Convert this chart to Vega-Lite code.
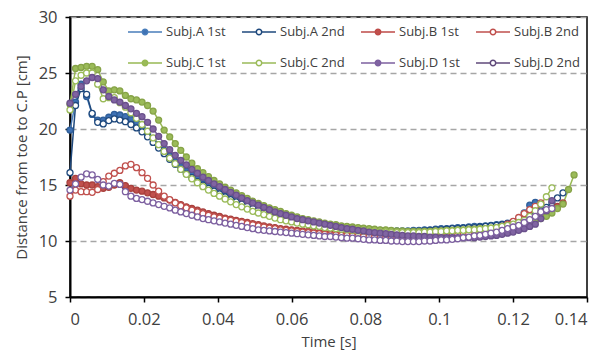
{
"$schema":"https://vega.github.io/schema/vega-lite/v6.json",
"autosize":{"type":"none"},
"padding":{"left":70,"top":17,"right":20,"bottom":56},
"width":517,"height":280,
"background":"white",
"data":{"values":[
{"s":"Subj.A 1st","t":0,"v":19.9},{"s":"Subj.A 1st","t":0.0015,"v":22.4},{"s":"Subj.A 1st","t":0.003,"v":24.0},{"s":"Subj.A 1st","t":0.0045,"v":22.9},{"s":"Subj.A 1st","t":0.006,"v":21.3},{"s":"Subj.A 1st","t":0.0075,"v":20.8},{"s":"Subj.A 1st","t":0.009,"v":20.8},{"s":"Subj.A 1st","t":0.0105,"v":21.05},{"s":"Subj.A 1st","t":0.012,"v":21.3},{"s":"Subj.A 1st","t":0.0135,"v":21.25},{"s":"Subj.A 1st","t":0.015,"v":21.1},{"s":"Subj.A 1st","t":0.0165,"v":20.85},{"s":"Subj.A 1st","t":0.018,"v":20.55},{"s":"Subj.A 1st","t":0.0195,"v":20.15},{"s":"Subj.A 1st","t":0.021,"v":19.65},{"s":"Subj.A 1st","t":0.0225,"v":19.15},{"s":"Subj.A 1st","t":0.024,"v":18.6},{"s":"Subj.A 1st","t":0.0255,"v":18.1},{"s":"Subj.A 1st","t":0.027,"v":17.6},{"s":"Subj.A 1st","t":0.0285,"v":17.1},{"s":"Subj.A 1st","t":0.03,"v":16.65},{"s":"Subj.A 1st","t":0.0315,"v":16.25},{"s":"Subj.A 1st","t":0.033,"v":15.9},{"s":"Subj.A 1st","t":0.0345,"v":15.55},{"s":"Subj.A 1st","t":0.036,"v":15.25},{"s":"Subj.A 1st","t":0.0375,"v":14.95},{"s":"Subj.A 1st","t":0.039,"v":14.7},{"s":"Subj.A 1st","t":0.0405,"v":14.45},{"s":"Subj.A 1st","t":0.042,"v":14.2},{"s":"Subj.A 1st","t":0.0435,"v":13.95},{"s":"Subj.A 1st","t":0.045,"v":13.75},{"s":"Subj.A 1st","t":0.0465,"v":13.55},{"s":"Subj.A 1st","t":0.048,"v":13.35},{"s":"Subj.A 1st","t":0.0495,"v":13.15},{"s":"Subj.A 1st","t":0.051,"v":12.95},{"s":"Subj.A 1st","t":0.0525,"v":12.8},{"s":"Subj.A 1st","t":0.054,"v":12.65},{"s":"Subj.A 1st","t":0.0555,"v":12.5},{"s":"Subj.A 1st","t":0.057,"v":12.35},{"s":"Subj.A 1st","t":0.0585,"v":12.2},{"s":"Subj.A 1st","t":0.06,"v":12.05},{"s":"Subj.A 1st","t":0.0615,"v":11.95},{"s":"Subj.A 1st","t":0.063,"v":11.85},{"s":"Subj.A 1st","t":0.0645,"v":11.75},{"s":"Subj.A 1st","t":0.066,"v":11.65},{"s":"Subj.A 1st","t":0.0675,"v":11.55},{"s":"Subj.A 1st","t":0.069,"v":11.45},{"s":"Subj.A 1st","t":0.0705,"v":11.4},{"s":"Subj.A 1st","t":0.072,"v":11.3},{"s":"Subj.A 1st","t":0.0735,"v":11.25},{"s":"Subj.A 1st","t":0.075,"v":11.2},{"s":"Subj.A 1st","t":0.0765,"v":11.15},{"s":"Subj.A 1st","t":0.078,"v":11.1},{"s":"Subj.A 1st","t":0.0795,"v":11.05},{"s":"Subj.A 1st","t":0.081,"v":11.0},{"s":"Subj.A 1st","t":0.0825,"v":10.95},{"s":"Subj.A 1st","t":0.084,"v":10.95},{"s":"Subj.A 1st","t":0.0855,"v":10.9},{"s":"Subj.A 1st","t":0.087,"v":10.9},{"s":"Subj.A 1st","t":0.0885,"v":10.9},{"s":"Subj.A 1st","t":0.09,"v":10.9},{"s":"Subj.A 1st","t":0.0915,"v":10.9},{"s":"Subj.A 1st","t":0.093,"v":10.95},{"s":"Subj.A 1st","t":0.0945,"v":10.95},{"s":"Subj.A 1st","t":0.096,"v":11.0},{"s":"Subj.A 1st","t":0.0975,"v":11.0},{"s":"Subj.A 1st","t":0.099,"v":11.05},{"s":"Subj.A 1st","t":0.1005,"v":11.1},{"s":"Subj.A 1st","t":0.102,"v":11.1},{"s":"Subj.A 1st","t":0.1035,"v":11.15},{"s":"Subj.A 1st","t":0.105,"v":11.2},{"s":"Subj.A 1st","t":0.1065,"v":11.2},{"s":"Subj.A 1st","t":0.108,"v":11.25},{"s":"Subj.A 1st","t":0.1095,"v":11.3},{"s":"Subj.A 1st","t":0.111,"v":11.3},{"s":"Subj.A 1st","t":0.1125,"v":11.35},{"s":"Subj.A 1st","t":0.114,"v":11.4},{"s":"Subj.A 1st","t":0.1155,"v":11.45},{"s":"Subj.A 1st","t":0.117,"v":11.5},{"s":"Subj.A 1st","t":0.1185,"v":11.6},{"s":"Subj.A 1st","t":0.12,"v":11.7},{"s":"Subj.A 1st","t":0.1215,"v":12.0},{"s":"Subj.A 1st","t":0.123,"v":12.5},{"s":"Subj.A 1st","t":0.1245,"v":13.2},{"s":"Subj.A 1st","t":0.126,"v":13.45},
{"s":"Subj.A 2nd","t":0,"v":16.1},{"s":"Subj.A 2nd","t":0.0015,"v":22.1},{"s":"Subj.A 2nd","t":0.003,"v":23.6},{"s":"Subj.A 2nd","t":0.0045,"v":23.1},{"s":"Subj.A 2nd","t":0.006,"v":21.4},{"s":"Subj.A 2nd","t":0.0075,"v":20.6},{"s":"Subj.A 2nd","t":0.009,"v":20.45},{"s":"Subj.A 2nd","t":0.0105,"v":20.75},{"s":"Subj.A 2nd","t":0.012,"v":20.9},{"s":"Subj.A 2nd","t":0.0135,"v":20.8},{"s":"Subj.A 2nd","t":0.015,"v":20.65},{"s":"Subj.A 2nd","t":0.0165,"v":20.4},{"s":"Subj.A 2nd","t":0.018,"v":20.1},{"s":"Subj.A 2nd","t":0.0195,"v":19.75},{"s":"Subj.A 2nd","t":0.021,"v":19.3},{"s":"Subj.A 2nd","t":0.0225,"v":18.8},{"s":"Subj.A 2nd","t":0.024,"v":18.3},{"s":"Subj.A 2nd","t":0.0255,"v":17.8},{"s":"Subj.A 2nd","t":0.027,"v":17.3},{"s":"Subj.A 2nd","t":0.0285,"v":16.85},{"s":"Subj.A 2nd","t":0.03,"v":16.4},{"s":"Subj.A 2nd","t":0.0315,"v":16.0},{"s":"Subj.A 2nd","t":0.033,"v":15.65},{"s":"Subj.A 2nd","t":0.0345,"v":15.3},{"s":"Subj.A 2nd","t":0.036,"v":15.0},{"s":"Subj.A 2nd","t":0.0375,"v":14.7},{"s":"Subj.A 2nd","t":0.039,"v":14.45},{"s":"Subj.A 2nd","t":0.0405,"v":14.2},{"s":"Subj.A 2nd","t":0.042,"v":13.95},{"s":"Subj.A 2nd","t":0.0435,"v":13.7},{"s":"Subj.A 2nd","t":0.045,"v":13.5},{"s":"Subj.A 2nd","t":0.0465,"v":13.3},{"s":"Subj.A 2nd","t":0.048,"v":13.1},{"s":"Subj.A 2nd","t":0.0495,"v":12.9},{"s":"Subj.A 2nd","t":0.051,"v":12.75},{"s":"Subj.A 2nd","t":0.0525,"v":12.6},{"s":"Subj.A 2nd","t":0.054,"v":12.45},{"s":"Subj.A 2nd","t":0.0555,"v":12.3},{"s":"Subj.A 2nd","t":0.057,"v":12.15},{"s":"Subj.A 2nd","t":0.0585,"v":12.0},{"s":"Subj.A 2nd","t":0.06,"v":11.9},{"s":"Subj.A 2nd","t":0.0615,"v":11.8},{"s":"Subj.A 2nd","t":0.063,"v":11.7},{"s":"Subj.A 2nd","t":0.0645,"v":11.6},{"s":"Subj.A 2nd","t":0.066,"v":11.5},{"s":"Subj.A 2nd","t":0.0675,"v":11.45},{"s":"Subj.A 2nd","t":0.069,"v":11.35},{"s":"Subj.A 2nd","t":0.0705,"v":11.3},{"s":"Subj.A 2nd","t":0.072,"v":11.2},{"s":"Subj.A 2nd","t":0.0735,"v":11.15},{"s":"Subj.A 2nd","t":0.075,"v":11.1},{"s":"Subj.A 2nd","t":0.0765,"v":11.05},{"s":"Subj.A 2nd","t":0.078,"v":11.0},{"s":"Subj.A 2nd","t":0.0795,"v":10.95},{"s":"Subj.A 2nd","t":0.081,"v":10.9},{"s":"Subj.A 2nd","t":0.0825,"v":10.9},{"s":"Subj.A 2nd","t":0.084,"v":10.85},{"s":"Subj.A 2nd","t":0.0855,"v":10.85},{"s":"Subj.A 2nd","t":0.087,"v":10.8},{"s":"Subj.A 2nd","t":0.0885,"v":10.8},{"s":"Subj.A 2nd","t":0.09,"v":10.8},{"s":"Subj.A 2nd","t":0.0915,"v":10.8},{"s":"Subj.A 2nd","t":0.093,"v":10.85},{"s":"Subj.A 2nd","t":0.0945,"v":10.85},{"s":"Subj.A 2nd","t":0.096,"v":10.9},{"s":"Subj.A 2nd","t":0.0975,"v":10.95},{"s":"Subj.A 2nd","t":0.099,"v":11.0},{"s":"Subj.A 2nd","t":0.1005,"v":11.0},{"s":"Subj.A 2nd","t":0.102,"v":11.05},{"s":"Subj.A 2nd","t":0.1035,"v":11.1},{"s":"Subj.A 2nd","t":0.105,"v":11.1},{"s":"Subj.A 2nd","t":0.1065,"v":11.15},{"s":"Subj.A 2nd","t":0.108,"v":11.2},{"s":"Subj.A 2nd","t":0.1095,"v":11.2},{"s":"Subj.A 2nd","t":0.111,"v":11.25},{"s":"Subj.A 2nd","t":0.1125,"v":11.3},{"s":"Subj.A 2nd","t":0.114,"v":11.35},{"s":"Subj.A 2nd","t":0.1155,"v":11.4},{"s":"Subj.A 2nd","t":0.117,"v":11.45},{"s":"Subj.A 2nd","t":0.1185,"v":11.55},{"s":"Subj.A 2nd","t":0.12,"v":11.65},{"s":"Subj.A 2nd","t":0.1215,"v":11.8},{"s":"Subj.A 2nd","t":0.123,"v":12.0},{"s":"Subj.A 2nd","t":0.1245,"v":12.2},{"s":"Subj.A 2nd","t":0.126,"v":12.45},{"s":"Subj.A 2nd","t":0.1275,"v":12.7},{"s":"Subj.A 2nd","t":0.129,"v":13.0},{"s":"Subj.A 2nd","t":0.1305,"v":13.4},{"s":"Subj.A 2nd","t":0.132,"v":13.85},{"s":"Subj.A 2nd","t":0.1335,"v":14.3},
{"s":"Subj.B 1st","t":0,"v":15.2},{"s":"Subj.B 1st","t":0.0015,"v":15.6},{"s":"Subj.B 1st","t":0.003,"v":15.1},{"s":"Subj.B 1st","t":0.0045,"v":15.0},{"s":"Subj.B 1st","t":0.006,"v":15.0},{"s":"Subj.B 1st","t":0.0075,"v":14.85},{"s":"Subj.B 1st","t":0.009,"v":14.7},{"s":"Subj.B 1st","t":0.0105,"v":14.8},{"s":"Subj.B 1st","t":0.012,"v":15.0},{"s":"Subj.B 1st","t":0.0135,"v":15.2},{"s":"Subj.B 1st","t":0.015,"v":14.95},{"s":"Subj.B 1st","t":0.0165,"v":14.7},{"s":"Subj.B 1st","t":0.018,"v":14.55},{"s":"Subj.B 1st","t":0.0195,"v":14.45},{"s":"Subj.B 1st","t":0.021,"v":14.3},{"s":"Subj.B 1st","t":0.0225,"v":14.15},{"s":"Subj.B 1st","t":0.024,"v":14.0},{"s":"Subj.B 1st","t":0.0255,"v":13.85},{"s":"Subj.B 1st","t":0.027,"v":13.65},{"s":"Subj.B 1st","t":0.0285,"v":13.45},{"s":"Subj.B 1st","t":0.03,"v":13.25},{"s":"Subj.B 1st","t":0.0315,"v":13.05},{"s":"Subj.B 1st","t":0.033,"v":12.9},{"s":"Subj.B 1st","t":0.0345,"v":12.75},{"s":"Subj.B 1st","t":0.036,"v":12.6},{"s":"Subj.B 1st","t":0.0375,"v":12.45},{"s":"Subj.B 1st","t":0.039,"v":12.3},{"s":"Subj.B 1st","t":0.0405,"v":12.2},{"s":"Subj.B 1st","t":0.042,"v":12.05},{"s":"Subj.B 1st","t":0.0435,"v":11.95},{"s":"Subj.B 1st","t":0.045,"v":11.85},{"s":"Subj.B 1st","t":0.0465,"v":11.75},{"s":"Subj.B 1st","t":0.048,"v":11.65},{"s":"Subj.B 1st","t":0.0495,"v":11.55},{"s":"Subj.B 1st","t":0.051,"v":11.45},{"s":"Subj.B 1st","t":0.0525,"v":11.35},{"s":"Subj.B 1st","t":0.054,"v":11.25},{"s":"Subj.B 1st","t":0.0555,"v":11.2},{"s":"Subj.B 1st","t":0.057,"v":11.1},{"s":"Subj.B 1st","t":0.0585,"v":11.05},{"s":"Subj.B 1st","t":0.06,"v":11.0},{"s":"Subj.B 1st","t":0.0615,"v":10.95},{"s":"Subj.B 1st","t":0.063,"v":10.9},{"s":"Subj.B 1st","t":0.0645,"v":10.85},{"s":"Subj.B 1st","t":0.066,"v":10.8},{"s":"Subj.B 1st","t":0.0675,"v":10.75},{"s":"Subj.B 1st","t":0.069,"v":10.7},{"s":"Subj.B 1st","t":0.0705,"v":10.65},{"s":"Subj.B 1st","t":0.072,"v":10.6},{"s":"Subj.B 1st","t":0.0735,"v":10.6},{"s":"Subj.B 1st","t":0.075,"v":10.55},{"s":"Subj.B 1st","t":0.0765,"v":10.5},{"s":"Subj.B 1st","t":0.078,"v":10.5},{"s":"Subj.B 1st","t":0.0795,"v":10.45},{"s":"Subj.B 1st","t":0.081,"v":10.45},{"s":"Subj.B 1st","t":0.0825,"v":10.4},{"s":"Subj.B 1st","t":0.084,"v":10.4},{"s":"Subj.B 1st","t":0.0855,"v":10.35},{"s":"Subj.B 1st","t":0.087,"v":10.35},{"s":"Subj.B 1st","t":0.0885,"v":10.3},{"s":"Subj.B 1st","t":0.09,"v":10.3},{"s":"Subj.B 1st","t":0.0915,"v":10.3},{"s":"Subj.B 1st","t":0.093,"v":10.3},{"s":"Subj.B 1st","t":0.0945,"v":10.3},{"s":"Subj.B 1st","t":0.096,"v":10.35},{"s":"Subj.B 1st","t":0.0975,"v":10.35},{"s":"Subj.B 1st","t":0.099,"v":10.4},{"s":"Subj.B 1st","t":0.1005,"v":10.4},{"s":"Subj.B 1st","t":0.102,"v":10.45},{"s":"Subj.B 1st","t":0.1035,"v":10.5},{"s":"Subj.B 1st","t":0.105,"v":10.55},{"s":"Subj.B 1st","t":0.1065,"v":10.6},{"s":"Subj.B 1st","t":0.108,"v":10.6},{"s":"Subj.B 1st","t":0.1095,"v":10.65},{"s":"Subj.B 1st","t":0.111,"v":10.7},{"s":"Subj.B 1st","t":0.1125,"v":10.75},{"s":"Subj.B 1st","t":0.114,"v":10.8},{"s":"Subj.B 1st","t":0.1155,"v":10.9},{"s":"Subj.B 1st","t":0.117,"v":10.95},{"s":"Subj.B 1st","t":0.1185,"v":11.05},{"s":"Subj.B 1st","t":0.12,"v":11.15},{"s":"Subj.B 1st","t":0.1215,"v":11.3},{"s":"Subj.B 1st","t":0.123,"v":11.5},{"s":"Subj.B 1st","t":0.1245,"v":11.75},{"s":"Subj.B 1st","t":0.126,"v":12.0},{"s":"Subj.B 1st","t":0.1275,"v":12.3},{"s":"Subj.B 1st","t":0.129,"v":12.55},{"s":"Subj.B 1st","t":0.1305,"v":12.85},{"s":"Subj.B 1st","t":0.132,"v":13.1},{"s":"Subj.B 1st","t":0.1335,"v":13.4},
{"s":"Subj.B 2nd","t":0,"v":14.0},{"s":"Subj.B 2nd","t":0.0015,"v":14.55},{"s":"Subj.B 2nd","t":0.003,"v":14.4},{"s":"Subj.B 2nd","t":0.0045,"v":14.4},{"s":"Subj.B 2nd","t":0.006,"v":14.35},{"s":"Subj.B 2nd","t":0.0075,"v":14.6},{"s":"Subj.B 2nd","t":0.009,"v":15.3},{"s":"Subj.B 2nd","t":0.0105,"v":15.8},{"s":"Subj.B 2nd","t":0.012,"v":16.05},{"s":"Subj.B 2nd","t":0.0135,"v":16.3},{"s":"Subj.B 2nd","t":0.015,"v":16.7},{"s":"Subj.B 2nd","t":0.0165,"v":16.85},{"s":"Subj.B 2nd","t":0.018,"v":16.55},{"s":"Subj.B 2nd","t":0.0195,"v":16.1},{"s":"Subj.B 2nd","t":0.021,"v":15.6},{"s":"Subj.B 2nd","t":0.0225,"v":15.0},{"s":"Subj.B 2nd","t":0.024,"v":14.45},{"s":"Subj.B 2nd","t":0.0255,"v":14.0},{"s":"Subj.B 2nd","t":0.027,"v":13.7},{"s":"Subj.B 2nd","t":0.0285,"v":13.4},{"s":"Subj.B 2nd","t":0.03,"v":13.15},{"s":"Subj.B 2nd","t":0.0315,"v":12.95},{"s":"Subj.B 2nd","t":0.033,"v":12.75},{"s":"Subj.B 2nd","t":0.0345,"v":12.6},{"s":"Subj.B 2nd","t":0.036,"v":12.45},{"s":"Subj.B 2nd","t":0.0375,"v":12.3},{"s":"Subj.B 2nd","t":0.039,"v":12.15},{"s":"Subj.B 2nd","t":0.0405,"v":12.05},{"s":"Subj.B 2nd","t":0.042,"v":11.95},{"s":"Subj.B 2nd","t":0.0435,"v":11.85},{"s":"Subj.B 2nd","t":0.045,"v":11.75},{"s":"Subj.B 2nd","t":0.0465,"v":11.65},{"s":"Subj.B 2nd","t":0.048,"v":11.55},{"s":"Subj.B 2nd","t":0.0495,"v":11.45},{"s":"Subj.B 2nd","t":0.051,"v":11.35},{"s":"Subj.B 2nd","t":0.0525,"v":11.25},{"s":"Subj.B 2nd","t":0.054,"v":11.15},{"s":"Subj.B 2nd","t":0.0555,"v":11.1},{"s":"Subj.B 2nd","t":0.057,"v":11.0},{"s":"Subj.B 2nd","t":0.0585,"v":10.95},{"s":"Subj.B 2nd","t":0.06,"v":10.9},{"s":"Subj.B 2nd","t":0.0615,"v":10.85},{"s":"Subj.B 2nd","t":0.063,"v":10.8},{"s":"Subj.B 2nd","t":0.0645,"v":10.75},{"s":"Subj.B 2nd","t":0.066,"v":10.7},{"s":"Subj.B 2nd","t":0.0675,"v":10.65},{"s":"Subj.B 2nd","t":0.069,"v":10.6},{"s":"Subj.B 2nd","t":0.0705,"v":10.55},{"s":"Subj.B 2nd","t":0.072,"v":10.55},{"s":"Subj.B 2nd","t":0.0735,"v":10.5},{"s":"Subj.B 2nd","t":0.075,"v":10.5},{"s":"Subj.B 2nd","t":0.0765,"v":10.45},{"s":"Subj.B 2nd","t":0.078,"v":10.45},{"s":"Subj.B 2nd","t":0.0795,"v":10.4},{"s":"Subj.B 2nd","t":0.081,"v":10.4},{"s":"Subj.B 2nd","t":0.0825,"v":10.35},{"s":"Subj.B 2nd","t":0.084,"v":10.35},{"s":"Subj.B 2nd","t":0.0855,"v":10.3},{"s":"Subj.B 2nd","t":0.087,"v":10.3},{"s":"Subj.B 2nd","t":0.0885,"v":10.3},{"s":"Subj.B 2nd","t":0.09,"v":10.3},{"s":"Subj.B 2nd","t":0.0915,"v":10.3},{"s":"Subj.B 2nd","t":0.093,"v":10.3},{"s":"Subj.B 2nd","t":0.0945,"v":10.3},{"s":"Subj.B 2nd","t":0.096,"v":10.35},{"s":"Subj.B 2nd","t":0.0975,"v":10.35},{"s":"Subj.B 2nd","t":0.099,"v":10.4},{"s":"Subj.B 2nd","t":0.1005,"v":10.4},{"s":"Subj.B 2nd","t":0.102,"v":10.45},{"s":"Subj.B 2nd","t":0.1035,"v":10.5},{"s":"Subj.B 2nd","t":0.105,"v":10.55},{"s":"Subj.B 2nd","t":0.1065,"v":10.6},{"s":"Subj.B 2nd","t":0.108,"v":10.65},{"s":"Subj.B 2nd","t":0.1095,"v":10.7},{"s":"Subj.B 2nd","t":0.111,"v":10.8},{"s":"Subj.B 2nd","t":0.1125,"v":10.9},{"s":"Subj.B 2nd","t":0.114,"v":11.0},{"s":"Subj.B 2nd","t":0.1155,"v":11.15},{"s":"Subj.B 2nd","t":0.117,"v":11.3},{"s":"Subj.B 2nd","t":0.1185,"v":11.5},{"s":"Subj.B 2nd","t":0.12,"v":11.75},{"s":"Subj.B 2nd","t":0.1215,"v":12.1},{"s":"Subj.B 2nd","t":0.123,"v":12.45},{"s":"Subj.B 2nd","t":0.1245,"v":12.8},{"s":"Subj.B 2nd","t":0.126,"v":13.1},{"s":"Subj.B 2nd","t":0.1275,"v":13.4},
{"s":"Subj.C 1st","t":0,"v":22.2},{"s":"Subj.C 1st","t":0.0015,"v":25.4},{"s":"Subj.C 1st","t":0.003,"v":25.5},{"s":"Subj.C 1st","t":0.0045,"v":25.6},{"s":"Subj.C 1st","t":0.006,"v":25.6},{"s":"Subj.C 1st","t":0.0075,"v":25.3},{"s":"Subj.C 1st","t":0.009,"v":24.2},{"s":"Subj.C 1st","t":0.0105,"v":23.4},{"s":"Subj.C 1st","t":0.012,"v":23.5},{"s":"Subj.C 1st","t":0.0135,"v":23.4},{"s":"Subj.C 1st","t":0.015,"v":23.0},{"s":"Subj.C 1st","t":0.0165,"v":22.7},{"s":"Subj.C 1st","t":0.018,"v":22.6},{"s":"Subj.C 1st","t":0.0195,"v":22.4},{"s":"Subj.C 1st","t":0.021,"v":22.1},{"s":"Subj.C 1st","t":0.0225,"v":21.6},{"s":"Subj.C 1st","t":0.024,"v":20.8},{"s":"Subj.C 1st","t":0.0255,"v":19.9},{"s":"Subj.C 1st","t":0.027,"v":19.3},{"s":"Subj.C 1st","t":0.0285,"v":18.7},{"s":"Subj.C 1st","t":0.03,"v":18.1},{"s":"Subj.C 1st","t":0.0315,"v":17.5},{"s":"Subj.C 1st","t":0.033,"v":16.95},{"s":"Subj.C 1st","t":0.0345,"v":16.45},{"s":"Subj.C 1st","t":0.036,"v":16.1},{"s":"Subj.C 1st","t":0.0375,"v":15.75},{"s":"Subj.C 1st","t":0.039,"v":15.4},{"s":"Subj.C 1st","t":0.0405,"v":15.1},{"s":"Subj.C 1st","t":0.042,"v":14.8},{"s":"Subj.C 1st","t":0.0435,"v":14.55},{"s":"Subj.C 1st","t":0.045,"v":14.3},{"s":"Subj.C 1st","t":0.0465,"v":14.05},{"s":"Subj.C 1st","t":0.048,"v":13.8},{"s":"Subj.C 1st","t":0.0495,"v":13.55},{"s":"Subj.C 1st","t":0.051,"v":13.35},{"s":"Subj.C 1st","t":0.0525,"v":13.15},{"s":"Subj.C 1st","t":0.054,"v":12.95},{"s":"Subj.C 1st","t":0.0555,"v":12.8},{"s":"Subj.C 1st","t":0.057,"v":12.65},{"s":"Subj.C 1st","t":0.0585,"v":12.45},{"s":"Subj.C 1st","t":0.06,"v":12.3},{"s":"Subj.C 1st","t":0.0615,"v":12.15},{"s":"Subj.C 1st","t":0.063,"v":12.0},{"s":"Subj.C 1st","t":0.0645,"v":11.9},{"s":"Subj.C 1st","t":0.066,"v":11.8},{"s":"Subj.C 1st","t":0.0675,"v":11.7},{"s":"Subj.C 1st","t":0.069,"v":11.6},{"s":"Subj.C 1st","t":0.0705,"v":11.5},{"s":"Subj.C 1st","t":0.072,"v":11.45},{"s":"Subj.C 1st","t":0.0735,"v":11.35},{"s":"Subj.C 1st","t":0.075,"v":11.3},{"s":"Subj.C 1st","t":0.0765,"v":11.25},{"s":"Subj.C 1st","t":0.078,"v":11.2},{"s":"Subj.C 1st","t":0.0795,"v":11.15},{"s":"Subj.C 1st","t":0.081,"v":11.1},{"s":"Subj.C 1st","t":0.0825,"v":11.05},{"s":"Subj.C 1st","t":0.084,"v":11.0},{"s":"Subj.C 1st","t":0.0855,"v":11.0},{"s":"Subj.C 1st","t":0.087,"v":10.95},{"s":"Subj.C 1st","t":0.0885,"v":10.9},{"s":"Subj.C 1st","t":0.09,"v":10.9},{"s":"Subj.C 1st","t":0.0915,"v":10.85},{"s":"Subj.C 1st","t":0.093,"v":10.85},{"s":"Subj.C 1st","t":0.0945,"v":10.85},{"s":"Subj.C 1st","t":0.096,"v":10.85},{"s":"Subj.C 1st","t":0.0975,"v":10.85},{"s":"Subj.C 1st","t":0.099,"v":10.9},{"s":"Subj.C 1st","t":0.1005,"v":10.9},{"s":"Subj.C 1st","t":0.102,"v":10.95},{"s":"Subj.C 1st","t":0.1035,"v":10.95},{"s":"Subj.C 1st","t":0.105,"v":11.0},{"s":"Subj.C 1st","t":0.1065,"v":11.0},{"s":"Subj.C 1st","t":0.108,"v":11.05},{"s":"Subj.C 1st","t":0.1095,"v":11.05},{"s":"Subj.C 1st","t":0.111,"v":11.1},{"s":"Subj.C 1st","t":0.1125,"v":11.1},{"s":"Subj.C 1st","t":0.114,"v":11.15},{"s":"Subj.C 1st","t":0.1155,"v":11.2},{"s":"Subj.C 1st","t":0.117,"v":11.2},{"s":"Subj.C 1st","t":0.1185,"v":11.25},{"s":"Subj.C 1st","t":0.12,"v":11.3},{"s":"Subj.C 1st","t":0.1215,"v":11.4},{"s":"Subj.C 1st","t":0.123,"v":11.5},{"s":"Subj.C 1st","t":0.1245,"v":11.6},{"s":"Subj.C 1st","t":0.126,"v":11.8},{"s":"Subj.C 1st","t":0.1275,"v":12.0},{"s":"Subj.C 1st","t":0.129,"v":12.2},{"s":"Subj.C 1st","t":0.1305,"v":12.5},{"s":"Subj.C 1st","t":0.132,"v":12.9},{"s":"Subj.C 1st","t":0.1335,"v":13.3},{"s":"Subj.C 1st","t":0.135,"v":14.6},{"s":"Subj.C 1st","t":0.1365,"v":15.9},
{"s":"Subj.C 2nd","t":0,"v":21.7},{"s":"Subj.C 2nd","t":0.0015,"v":24.3},{"s":"Subj.C 2nd","t":0.003,"v":24.8},{"s":"Subj.C 2nd","t":0.0045,"v":25.0},{"s":"Subj.C 2nd","t":0.006,"v":25.0},{"s":"Subj.C 2nd","t":0.0075,"v":24.0},{"s":"Subj.C 2nd","t":0.009,"v":22.7},{"s":"Subj.C 2nd","t":0.0105,"v":22.8},{"s":"Subj.C 2nd","t":0.012,"v":22.8},{"s":"Subj.C 2nd","t":0.0135,"v":22.35},{"s":"Subj.C 2nd","t":0.015,"v":21.95},{"s":"Subj.C 2nd","t":0.0165,"v":21.45},{"s":"Subj.C 2nd","t":0.018,"v":20.95},{"s":"Subj.C 2nd","t":0.0195,"v":20.4},{"s":"Subj.C 2nd","t":0.021,"v":19.8},{"s":"Subj.C 2nd","t":0.0225,"v":19.2},{"s":"Subj.C 2nd","t":0.024,"v":18.6},{"s":"Subj.C 2nd","t":0.0255,"v":18.0},{"s":"Subj.C 2nd","t":0.027,"v":17.4},{"s":"Subj.C 2nd","t":0.0285,"v":16.9},{"s":"Subj.C 2nd","t":0.03,"v":16.4},{"s":"Subj.C 2nd","t":0.0315,"v":15.95},{"s":"Subj.C 2nd","t":0.033,"v":15.55},{"s":"Subj.C 2nd","t":0.0345,"v":15.2},{"s":"Subj.C 2nd","t":0.036,"v":14.85},{"s":"Subj.C 2nd","t":0.0375,"v":14.55},{"s":"Subj.C 2nd","t":0.039,"v":14.25},{"s":"Subj.C 2nd","t":0.0405,"v":14.0},{"s":"Subj.C 2nd","t":0.042,"v":13.75},{"s":"Subj.C 2nd","t":0.0435,"v":13.5},{"s":"Subj.C 2nd","t":0.045,"v":13.25},{"s":"Subj.C 2nd","t":0.0465,"v":13.05},{"s":"Subj.C 2nd","t":0.048,"v":12.85},{"s":"Subj.C 2nd","t":0.0495,"v":12.65},{"s":"Subj.C 2nd","t":0.051,"v":12.5},{"s":"Subj.C 2nd","t":0.0525,"v":12.35},{"s":"Subj.C 2nd","t":0.054,"v":12.2},{"s":"Subj.C 2nd","t":0.0555,"v":12.05},{"s":"Subj.C 2nd","t":0.057,"v":11.9},{"s":"Subj.C 2nd","t":0.0585,"v":11.8},{"s":"Subj.C 2nd","t":0.06,"v":11.7},{"s":"Subj.C 2nd","t":0.0615,"v":11.6},{"s":"Subj.C 2nd","t":0.063,"v":11.5},{"s":"Subj.C 2nd","t":0.0645,"v":11.45},{"s":"Subj.C 2nd","t":0.066,"v":11.35},{"s":"Subj.C 2nd","t":0.0675,"v":11.3},{"s":"Subj.C 2nd","t":0.069,"v":11.2},{"s":"Subj.C 2nd","t":0.0705,"v":11.15},{"s":"Subj.C 2nd","t":0.072,"v":11.1},{"s":"Subj.C 2nd","t":0.0735,"v":11.05},{"s":"Subj.C 2nd","t":0.075,"v":11.0},{"s":"Subj.C 2nd","t":0.0765,"v":10.95},{"s":"Subj.C 2nd","t":0.078,"v":10.9},{"s":"Subj.C 2nd","t":0.0795,"v":10.9},{"s":"Subj.C 2nd","t":0.081,"v":10.85},{"s":"Subj.C 2nd","t":0.0825,"v":10.85},{"s":"Subj.C 2nd","t":0.084,"v":10.8},{"s":"Subj.C 2nd","t":0.0855,"v":10.8},{"s":"Subj.C 2nd","t":0.087,"v":10.75},{"s":"Subj.C 2nd","t":0.0885,"v":10.75},{"s":"Subj.C 2nd","t":0.09,"v":10.75},{"s":"Subj.C 2nd","t":0.0915,"v":10.75},{"s":"Subj.C 2nd","t":0.093,"v":10.75},{"s":"Subj.C 2nd","t":0.0945,"v":10.75},{"s":"Subj.C 2nd","t":0.096,"v":10.8},{"s":"Subj.C 2nd","t":0.0975,"v":10.8},{"s":"Subj.C 2nd","t":0.099,"v":10.85},{"s":"Subj.C 2nd","t":0.1005,"v":10.85},{"s":"Subj.C 2nd","t":0.102,"v":10.9},{"s":"Subj.C 2nd","t":0.1035,"v":10.9},{"s":"Subj.C 2nd","t":0.105,"v":10.95},{"s":"Subj.C 2nd","t":0.1065,"v":10.95},{"s":"Subj.C 2nd","t":0.108,"v":11.0},{"s":"Subj.C 2nd","t":0.1095,"v":11.0},{"s":"Subj.C 2nd","t":0.111,"v":11.05},{"s":"Subj.C 2nd","t":0.1125,"v":11.1},{"s":"Subj.C 2nd","t":0.114,"v":11.15},{"s":"Subj.C 2nd","t":0.1155,"v":11.2},{"s":"Subj.C 2nd","t":0.117,"v":11.3},{"s":"Subj.C 2nd","t":0.1185,"v":11.4},{"s":"Subj.C 2nd","t":0.12,"v":11.5},{"s":"Subj.C 2nd","t":0.1215,"v":11.65},{"s":"Subj.C 2nd","t":0.123,"v":11.85},{"s":"Subj.C 2nd","t":0.1245,"v":12.2},{"s":"Subj.C 2nd","t":0.126,"v":12.7},{"s":"Subj.C 2nd","t":0.1275,"v":13.3},{"s":"Subj.C 2nd","t":0.129,"v":13.95},{"s":"Subj.C 2nd","t":0.1305,"v":14.75},
{"s":"Subj.D 1st","t":0,"v":22.3},{"s":"Subj.D 1st","t":0.0015,"v":23.1},{"s":"Subj.D 1st","t":0.003,"v":23.8},{"s":"Subj.D 1st","t":0.0045,"v":24.3},{"s":"Subj.D 1st","t":0.006,"v":24.6},{"s":"Subj.D 1st","t":0.0075,"v":24.5},{"s":"Subj.D 1st","t":0.009,"v":23.5},{"s":"Subj.D 1st","t":0.0105,"v":22.9},{"s":"Subj.D 1st","t":0.012,"v":22.6},{"s":"Subj.D 1st","t":0.0135,"v":22.4},{"s":"Subj.D 1st","t":0.015,"v":22.1},{"s":"Subj.D 1st","t":0.0165,"v":21.8},{"s":"Subj.D 1st","t":0.018,"v":21.4},{"s":"Subj.D 1st","t":0.0195,"v":21.1},{"s":"Subj.D 1st","t":0.021,"v":20.6},{"s":"Subj.D 1st","t":0.0225,"v":20.0},{"s":"Subj.D 1st","t":0.024,"v":19.35},{"s":"Subj.D 1st","t":0.0255,"v":18.7},{"s":"Subj.D 1st","t":0.027,"v":18.15},{"s":"Subj.D 1st","t":0.0285,"v":17.65},{"s":"Subj.D 1st","t":0.03,"v":17.2},{"s":"Subj.D 1st","t":0.0315,"v":16.8},{"s":"Subj.D 1st","t":0.033,"v":16.4},{"s":"Subj.D 1st","t":0.0345,"v":16.05},{"s":"Subj.D 1st","t":0.036,"v":15.7},{"s":"Subj.D 1st","t":0.0375,"v":15.4},{"s":"Subj.D 1st","t":0.039,"v":15.1},{"s":"Subj.D 1st","t":0.0405,"v":14.85},{"s":"Subj.D 1st","t":0.042,"v":14.6},{"s":"Subj.D 1st","t":0.0435,"v":14.35},{"s":"Subj.D 1st","t":0.045,"v":14.1},{"s":"Subj.D 1st","t":0.0465,"v":13.85},{"s":"Subj.D 1st","t":0.048,"v":13.6},{"s":"Subj.D 1st","t":0.0495,"v":13.4},{"s":"Subj.D 1st","t":0.051,"v":13.2},{"s":"Subj.D 1st","t":0.0525,"v":13.0},{"s":"Subj.D 1st","t":0.054,"v":12.8},{"s":"Subj.D 1st","t":0.0555,"v":12.6},{"s":"Subj.D 1st","t":0.057,"v":12.45},{"s":"Subj.D 1st","t":0.0585,"v":12.3},{"s":"Subj.D 1st","t":0.06,"v":12.15},{"s":"Subj.D 1st","t":0.0615,"v":12.0},{"s":"Subj.D 1st","t":0.063,"v":11.9},{"s":"Subj.D 1st","t":0.0645,"v":11.8},{"s":"Subj.D 1st","t":0.066,"v":11.7},{"s":"Subj.D 1st","t":0.0675,"v":11.6},{"s":"Subj.D 1st","t":0.069,"v":11.5},{"s":"Subj.D 1st","t":0.0705,"v":11.4},{"s":"Subj.D 1st","t":0.072,"v":11.3},{"s":"Subj.D 1st","t":0.0735,"v":11.2},{"s":"Subj.D 1st","t":0.075,"v":11.1},{"s":"Subj.D 1st","t":0.0765,"v":11.05},{"s":"Subj.D 1st","t":0.078,"v":10.95},{"s":"Subj.D 1st","t":0.0795,"v":10.9},{"s":"Subj.D 1st","t":0.081,"v":10.8},{"s":"Subj.D 1st","t":0.0825,"v":10.75},{"s":"Subj.D 1st","t":0.084,"v":10.7},{"s":"Subj.D 1st","t":0.0855,"v":10.65},{"s":"Subj.D 1st","t":0.087,"v":10.6},{"s":"Subj.D 1st","t":0.0885,"v":10.55},{"s":"Subj.D 1st","t":0.09,"v":10.5},{"s":"Subj.D 1st","t":0.0915,"v":10.45},{"s":"Subj.D 1st","t":0.093,"v":10.45},{"s":"Subj.D 1st","t":0.0945,"v":10.4},{"s":"Subj.D 1st","t":0.096,"v":10.4},{"s":"Subj.D 1st","t":0.0975,"v":10.35},{"s":"Subj.D 1st","t":0.099,"v":10.35},{"s":"Subj.D 1st","t":0.1005,"v":10.3},{"s":"Subj.D 1st","t":0.102,"v":10.3},{"s":"Subj.D 1st","t":0.1035,"v":10.3},{"s":"Subj.D 1st","t":0.105,"v":10.3},{"s":"Subj.D 1st","t":0.1065,"v":10.3},{"s":"Subj.D 1st","t":0.108,"v":10.3},{"s":"Subj.D 1st","t":0.1095,"v":10.3},{"s":"Subj.D 1st","t":0.111,"v":10.35},{"s":"Subj.D 1st","t":0.1125,"v":10.4},{"s":"Subj.D 1st","t":0.114,"v":10.45},{"s":"Subj.D 1st","t":0.1155,"v":10.5},{"s":"Subj.D 1st","t":0.117,"v":10.6},{"s":"Subj.D 1st","t":0.1185,"v":10.7},{"s":"Subj.D 1st","t":0.12,"v":10.8},{"s":"Subj.D 1st","t":0.1215,"v":10.95},{"s":"Subj.D 1st","t":0.123,"v":11.1},{"s":"Subj.D 1st","t":0.1245,"v":11.3},{"s":"Subj.D 1st","t":0.126,"v":11.5},{"s":"Subj.D 1st","t":0.1275,"v":12.0},{"s":"Subj.D 1st","t":0.129,"v":12.7},{"s":"Subj.D 1st","t":0.1305,"v":13.6},
{"s":"Subj.D 2nd","t":0,"v":14.55},{"s":"Subj.D 2nd","t":0.0015,"v":15.1},{"s":"Subj.D 2nd","t":0.003,"v":15.7},{"s":"Subj.D 2nd","t":0.0045,"v":16.0},{"s":"Subj.D 2nd","t":0.006,"v":15.9},{"s":"Subj.D 2nd","t":0.0075,"v":15.5},{"s":"Subj.D 2nd","t":0.009,"v":15.0},{"s":"Subj.D 2nd","t":0.0105,"v":14.9},{"s":"Subj.D 2nd","t":0.012,"v":15.15},{"s":"Subj.D 2nd","t":0.0135,"v":15.05},{"s":"Subj.D 2nd","t":0.015,"v":14.4},{"s":"Subj.D 2nd","t":0.0165,"v":14.0},{"s":"Subj.D 2nd","t":0.018,"v":13.8},{"s":"Subj.D 2nd","t":0.0195,"v":13.7},{"s":"Subj.D 2nd","t":0.021,"v":13.55},{"s":"Subj.D 2nd","t":0.0225,"v":13.4},{"s":"Subj.D 2nd","t":0.024,"v":13.25},{"s":"Subj.D 2nd","t":0.0255,"v":13.1},{"s":"Subj.D 2nd","t":0.027,"v":12.95},{"s":"Subj.D 2nd","t":0.0285,"v":12.75},{"s":"Subj.D 2nd","t":0.03,"v":12.6},{"s":"Subj.D 2nd","t":0.0315,"v":12.45},{"s":"Subj.D 2nd","t":0.033,"v":12.3},{"s":"Subj.D 2nd","t":0.0345,"v":12.15},{"s":"Subj.D 2nd","t":0.036,"v":12.0},{"s":"Subj.D 2nd","t":0.0375,"v":11.9},{"s":"Subj.D 2nd","t":0.039,"v":11.8},{"s":"Subj.D 2nd","t":0.0405,"v":11.7},{"s":"Subj.D 2nd","t":0.042,"v":11.6},{"s":"Subj.D 2nd","t":0.0435,"v":11.5},{"s":"Subj.D 2nd","t":0.045,"v":11.4},{"s":"Subj.D 2nd","t":0.0465,"v":11.3},{"s":"Subj.D 2nd","t":0.048,"v":11.2},{"s":"Subj.D 2nd","t":0.0495,"v":11.1},{"s":"Subj.D 2nd","t":0.051,"v":11.0},{"s":"Subj.D 2nd","t":0.0525,"v":10.95},{"s":"Subj.D 2nd","t":0.054,"v":10.9},{"s":"Subj.D 2nd","t":0.0555,"v":10.85},{"s":"Subj.D 2nd","t":0.057,"v":10.8},{"s":"Subj.D 2nd","t":0.0585,"v":10.75},{"s":"Subj.D 2nd","t":0.06,"v":10.7},{"s":"Subj.D 2nd","t":0.0615,"v":10.65},{"s":"Subj.D 2nd","t":0.063,"v":10.6},{"s":"Subj.D 2nd","t":0.0645,"v":10.55},{"s":"Subj.D 2nd","t":0.066,"v":10.5},{"s":"Subj.D 2nd","t":0.0675,"v":10.45},{"s":"Subj.D 2nd","t":0.069,"v":10.4},{"s":"Subj.D 2nd","t":0.0705,"v":10.4},{"s":"Subj.D 2nd","t":0.072,"v":10.35},{"s":"Subj.D 2nd","t":0.0735,"v":10.3},{"s":"Subj.D 2nd","t":0.075,"v":10.25},{"s":"Subj.D 2nd","t":0.0765,"v":10.25},{"s":"Subj.D 2nd","t":0.078,"v":10.2},{"s":"Subj.D 2nd","t":0.0795,"v":10.15},{"s":"Subj.D 2nd","t":0.081,"v":10.1},{"s":"Subj.D 2nd","t":0.0825,"v":10.1},{"s":"Subj.D 2nd","t":0.084,"v":10.05},{"s":"Subj.D 2nd","t":0.0855,"v":10.05},{"s":"Subj.D 2nd","t":0.087,"v":10.0},{"s":"Subj.D 2nd","t":0.0885,"v":10.0},{"s":"Subj.D 2nd","t":0.09,"v":9.95},{"s":"Subj.D 2nd","t":0.0915,"v":9.95},{"s":"Subj.D 2nd","t":0.093,"v":9.95},{"s":"Subj.D 2nd","t":0.0945,"v":9.95},{"s":"Subj.D 2nd","t":0.096,"v":10.0},{"s":"Subj.D 2nd","t":0.0975,"v":10.0},{"s":"Subj.D 2nd","t":0.099,"v":10.05},{"s":"Subj.D 2nd","t":0.1005,"v":10.1},{"s":"Subj.D 2nd","t":0.102,"v":10.1},{"s":"Subj.D 2nd","t":0.1035,"v":10.15},{"s":"Subj.D 2nd","t":0.105,"v":10.2},{"s":"Subj.D 2nd","t":0.1065,"v":10.3},{"s":"Subj.D 2nd","t":0.108,"v":10.35},{"s":"Subj.D 2nd","t":0.1095,"v":10.45},{"s":"Subj.D 2nd","t":0.111,"v":10.5},{"s":"Subj.D 2nd","t":0.1125,"v":10.6},{"s":"Subj.D 2nd","t":0.114,"v":10.7},{"s":"Subj.D 2nd","t":0.1155,"v":10.8},{"s":"Subj.D 2nd","t":0.117,"v":10.95},{"s":"Subj.D 2nd","t":0.1185,"v":11.1},{"s":"Subj.D 2nd","t":0.12,"v":11.25},{"s":"Subj.D 2nd","t":0.1215,"v":11.4},{"s":"Subj.D 2nd","t":0.123,"v":11.65},{"s":"Subj.D 2nd","t":0.1245,"v":11.9},{"s":"Subj.D 2nd","t":0.126,"v":12.2},{"s":"Subj.D 2nd","t":0.1275,"v":12.6},{"s":"Subj.D 2nd","t":0.129,"v":12.8},{"s":"Subj.D 2nd","t":0.1305,"v":12.9}
]},
"encoding":{
"x":{"field":"t","type":"quantitative","scale":{"domain":[0,0.14],"nice":false,"zero":false},
 "axis":{"title":"Time [s]","values":[0,0.02,0.04,0.06,0.08,0.1,0.12,0.14],"format":".2~f","grid":false,"labelPadding":9,"titlePadding":7,"labelFontSize":16.5,"titleFontSize":15,"titleFontWeight":400}},
"y":{"field":"v","type":"quantitative","scale":{"domain":[5,30],"nice":false,"zero":false},
 "axis":{"title":"Distance from toe to C.P [cm]","values":[5,10,15,20,25,30],"grid":true,"gridColor":"#A6A6A6","gridDash":[6,4],"gridWidth":1.5,"labelPadding":8,"titlePadding":9,"labelFontSize":16.5,"titleFontSize":15,"titleFontWeight":400}}
},
"layer":[
{"mark":{"type":"line","strokeWidth":1.5},
 "encoding":{"color":{"field":"s","type":"nominal",
  "scale":{"domain":["Subj.A 1st","Subj.A 2nd","Subj.B 1st","Subj.B 2nd","Subj.C 1st","Subj.C 2nd","Subj.D 1st","Subj.D 2nd"],
  "range":["#4A7EBB","#1F497D","#BE4B48","#C0504D","#98B954","#9BBB59","#7D60A0","#604A7B"]},
  "legend":{"disable":false,"title":null,"orient":"none","legendX":57,"legendY":-3,"columns":4,"direction":"horizontal",
   "symbolType":"M-1,0H-0.16M0.16,0H1M-0.16,0A0.16,0.16,0,1,0,0.16,0A0.16,0.16,0,1,0,-0.16,0Z",
   "symbolSize":1156,"symbolStrokeWidth":1.5,"labelFont":"Open Sans","labelFontSize":13,"labelColor":"#404040","labelOffset":3,"columnPadding":13,"rowPadding":6,"padding":0,
   "encode":{"symbols":{"update":{"fill":{"scale":"fill","field":"value"},"opacity":{"value":1}}}}}}}},
{"mark":{"type":"point","shape":"circle","size":36,"strokeWidth":1.3,"opacity":1},
 "encoding":{
  "stroke":{"field":"s","type":"nominal","legend":null,
   "scale":{"domain":["Subj.A 1st","Subj.A 2nd","Subj.B 1st","Subj.B 2nd","Subj.C 1st","Subj.C 2nd","Subj.D 1st","Subj.D 2nd"],
   "range":["#2F5F9A","#1F497D","#A9403D","#C0504D","#86A347","#9BBB59","#6A508C","#7D60A0"]}},
  "fill":{"field":"s","type":"nominal","legend":null,
   "scale":{"domain":["Subj.A 1st","Subj.A 2nd","Subj.B 1st","Subj.B 2nd","Subj.C 1st","Subj.C 2nd","Subj.D 1st","Subj.D 2nd"],
   "range":["#3F72B5","#FFFFFF","#C0504D","#FFFFFF","#9BBB59","#FFFFFF","#8064A2","#FFFFFF"]}}}}
],
"config":{
"font":"Open Sans",
"legend":{"disable":false},
"view":{"stroke":"#000000","strokeWidth":1.5},
"axis":{"labelFont":"Open Sans","labelColor":"#404040","titleFont":"Open Sans","titleColor":"#404040","domainColor":"#000000","domainWidth":2,"tickColor":"#000000","tickWidth":1.5,"tickSize":5}
}
}
